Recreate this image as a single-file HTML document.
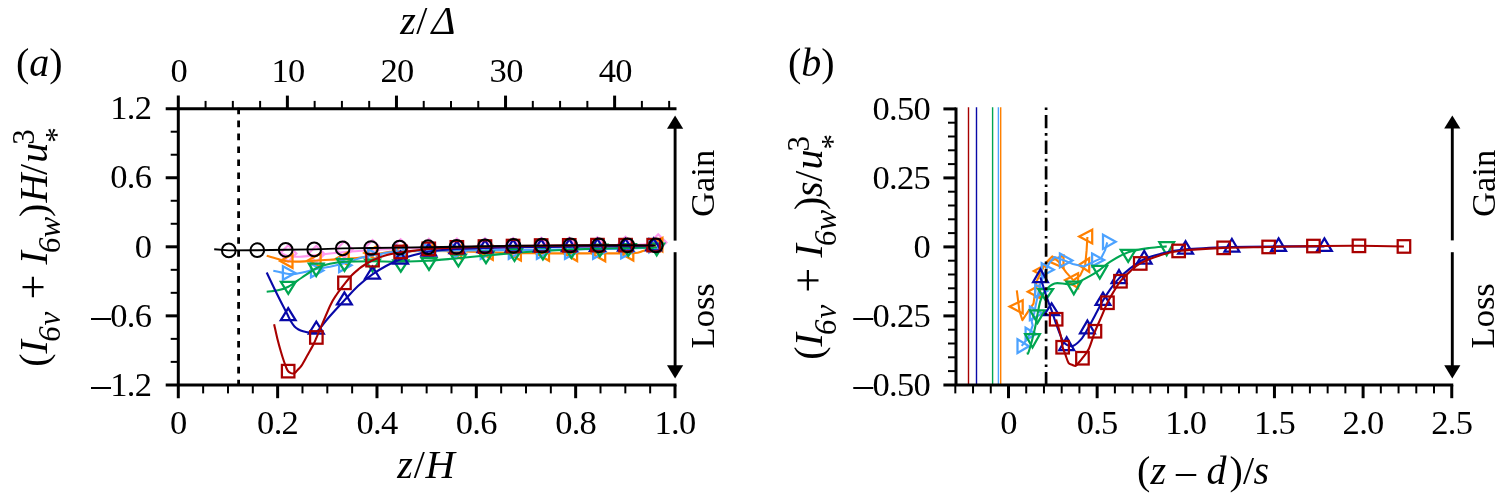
<!DOCTYPE html>
<html lang="en">
<head>
<meta charset="utf-8">
<title>Figure</title>
<style>html,body{margin:0;padding:0;background:#fff;}svg{display:block;}</style>
</head>
<body>
<svg width="1504" height="496" viewBox="0 0 1504 496" font-family="'Liberation Serif', serif" fill="#000">
<rect width="1504" height="496" fill="#fff"/>
<line x1="238.60" y1="107.64" x2="238.60" y2="384.90" stroke="#000" stroke-width="2.8" stroke-dasharray="6.6 6.36"/>
<path d="M280.0,252.5 C281.3,253.1 284.8,255.3 288.0,256.0 C291.2,256.7 295.4,256.9 300.0,256.7 C304.6,256.5 309.5,255.8 316.7,255.0 C323.9,254.2 336.2,252.8 345.0,252.0 C353.8,251.2 363.2,250.5 372.0,250.0 C380.8,249.5 391.0,249.0 400.0,248.6 C409.0,248.2 418.9,247.9 428.0,247.6 C437.1,247.3 443.2,247.2 457.0,247.0 C470.8,246.8 495.8,246.6 514.0,246.4 C532.2,246.2 553.1,246.2 571.0,246.0 C588.9,245.8 614.5,245.5 626.0,245.3 C637.5,245.1 638.2,244.9 643.0,244.5 C647.8,244.1 653.9,242.9 656.0,242.6" fill="none" stroke="#ff99ee" stroke-width="2.1" stroke-linejoin="round"/>
<polygon points="288.2,245.3 296.4,253.5 288.2,261.7 280.0,253.5" fill="none" stroke="#ff99ee" stroke-width="2.25"/>
<polygon points="316.3,245.8 324.5,254.0 316.3,262.2 308.1,254.0" fill="none" stroke="#ff99ee" stroke-width="2.25"/>
<polygon points="344.4,241.3 352.6,249.5 344.4,257.7 336.2,249.5" fill="none" stroke="#ff99ee" stroke-width="2.25"/>
<polygon points="372.5,240.1 380.7,248.3 372.5,256.5 364.3,248.3" fill="none" stroke="#ff99ee" stroke-width="2.25"/>
<polygon points="400.6,239.4 408.8,247.6 400.6,255.8 392.4,247.6" fill="none" stroke="#ff99ee" stroke-width="2.25"/>
<polygon points="428.8,238.9 436.9,247.1 428.8,255.3 420.6,247.1" fill="none" stroke="#ff99ee" stroke-width="2.25"/>
<polygon points="456.9,238.6 465.1,246.8 456.9,255.0 448.7,246.8" fill="none" stroke="#ff99ee" stroke-width="2.25"/>
<polygon points="485.0,238.3 493.2,246.5 485.0,254.7 476.8,246.5" fill="none" stroke="#ff99ee" stroke-width="2.25"/>
<polygon points="513.1,238.0 521.3,246.2 513.1,254.4 504.9,246.2" fill="none" stroke="#ff99ee" stroke-width="2.25"/>
<polygon points="541.2,237.8 549.4,246.0 541.2,254.2 533.0,246.0" fill="none" stroke="#ff99ee" stroke-width="2.25"/>
<polygon points="569.3,237.6 577.5,245.8 569.3,254.0 561.1,245.8" fill="none" stroke="#ff99ee" stroke-width="2.25"/>
<polygon points="597.4,237.3 605.6,245.5 597.4,253.7 589.2,245.5" fill="none" stroke="#ff99ee" stroke-width="2.25"/>
<polygon points="625.5,236.8 633.7,245.0 625.5,253.2 617.3,245.0" fill="none" stroke="#ff99ee" stroke-width="2.25"/>
<polygon points="658.2,234.3 666.4,242.5 658.2,250.7 650.0,242.5" fill="none" stroke="#ff99ee" stroke-width="2.25"/>
<path d="M266.7,255.8 C268.3,256.3 273.8,257.9 277.0,258.8 C280.2,259.7 283.0,260.9 286.7,261.3 C290.4,261.7 295.2,261.7 300.0,261.6 C304.8,261.5 311.9,260.8 316.7,260.5 C321.5,260.2 325.5,260.0 330.0,259.7 C334.5,259.4 339.7,259.2 345.0,258.8 C350.3,258.4 357.4,258.0 363.0,257.2 C368.6,256.4 375.7,254.3 380.0,253.5 C384.3,252.7 386.8,252.3 390.0,251.9 C393.2,251.5 393.9,251.4 400.0,251.3 C406.1,251.2 418.9,251.0 428.0,251.0 C437.1,251.0 447.9,251.1 457.0,251.3 C466.1,251.5 475.9,251.7 485.0,252.0 C494.1,252.3 506.3,252.8 514.0,253.0 C521.7,253.2 523.9,253.2 533.0,253.3 C542.1,253.4 560.4,253.4 571.0,253.4 C581.6,253.4 589.1,253.3 599.0,253.3 C608.9,253.3 626.0,253.6 633.0,253.2 C640.0,252.8 639.7,252.1 643.0,251.0 C646.3,249.9 652.1,247.1 653.8,246.3" fill="none" stroke="#ff8000" stroke-width="2.1" stroke-linejoin="round"/>
<polygon points="292.5,254.2 280.1,261.0 292.5,267.8" fill="none" stroke="#ff8000" stroke-width="2.25" stroke-linejoin="miter"/>
<polygon points="320.6,253.5 308.2,260.3 320.6,267.1" fill="none" stroke="#ff8000" stroke-width="2.25" stroke-linejoin="miter"/>
<polygon points="348.7,251.8 336.3,258.6 348.7,265.4" fill="none" stroke="#ff8000" stroke-width="2.25" stroke-linejoin="miter"/>
<polygon points="376.8,246.2 364.4,253.0 376.8,259.8" fill="none" stroke="#ff8000" stroke-width="2.25" stroke-linejoin="miter"/>
<polygon points="404.9,244.7 392.5,251.5 404.9,258.3" fill="none" stroke="#ff8000" stroke-width="2.25" stroke-linejoin="miter"/>
<polygon points="433.1,244.7 420.6,251.5 433.1,258.3" fill="none" stroke="#ff8000" stroke-width="2.25" stroke-linejoin="miter"/>
<polygon points="461.2,245.2 448.8,252.0 461.2,258.8" fill="none" stroke="#ff8000" stroke-width="2.25" stroke-linejoin="miter"/>
<polygon points="492.8,246.2 480.9,253.0 492.8,259.8" fill="none" stroke="#ff8000" stroke-width="2.25" stroke-linejoin="miter"/>
<polygon points="520.9,246.9 509.0,253.7 520.9,260.5" fill="none" stroke="#ff8000" stroke-width="2.25" stroke-linejoin="miter"/>
<polygon points="549.0,247.2 537.1,254.0 549.0,260.8" fill="none" stroke="#ff8000" stroke-width="2.25" stroke-linejoin="miter"/>
<polygon points="577.1,247.4 565.2,254.2 577.1,261.0" fill="none" stroke="#ff8000" stroke-width="2.25" stroke-linejoin="miter"/>
<polygon points="605.2,247.7 593.3,254.5 605.2,261.3" fill="none" stroke="#ff8000" stroke-width="2.25" stroke-linejoin="miter"/>
<polygon points="633.3,247.0 621.4,253.8 633.3,260.6" fill="none" stroke="#ff8000" stroke-width="2.25" stroke-linejoin="miter"/>
<polygon points="662.4,238.0 651.0,244.8 662.4,251.6" fill="none" stroke="#ff8000" stroke-width="2.25" stroke-linejoin="miter"/>
<path d="M273.3,270.8 C274.7,271.1 279.5,272.1 282.0,272.6 C284.5,273.1 286.9,273.8 289.0,274.0 C291.1,274.2 292.4,274.3 295.0,274.0 C297.6,273.7 301.5,272.8 305.0,272.0 C308.5,271.2 312.7,269.8 316.7,269.0 C320.7,268.2 325.5,267.8 330.0,266.8 C334.5,265.8 339.7,264.5 345.0,263.0 C350.3,261.5 357.4,258.6 363.0,257.2 C368.6,255.8 375.7,254.8 380.0,254.0 C384.3,253.2 386.8,252.7 390.0,252.3 C393.2,251.9 393.9,251.6 400.0,251.3 C406.1,251.0 418.9,250.8 428.0,250.7 C437.1,250.6 447.9,250.6 457.0,250.5 C466.1,250.4 475.9,250.4 485.0,250.3 C494.1,250.2 504.9,250.1 514.0,250.0 C523.1,249.9 532.9,249.8 542.0,249.7 C551.1,249.6 561.9,249.5 571.0,249.4 C580.1,249.3 590.2,249.2 599.0,249.1 C607.8,249.0 617.3,249.0 626.0,248.7 C634.7,248.4 649.2,247.7 653.6,247.5" fill="none" stroke="#4ca2ff" stroke-width="2.1" stroke-linejoin="round"/>
<polygon points="282.9,266.2 295.3,273.0 282.9,279.8" fill="none" stroke="#4ca2ff" stroke-width="2.25" stroke-linejoin="miter"/>
<polygon points="311.0,263.7 323.4,270.5 311.0,277.3" fill="none" stroke="#4ca2ff" stroke-width="2.25" stroke-linejoin="miter"/>
<polygon points="339.1,258.4 351.5,265.2 339.1,272.0" fill="none" stroke="#4ca2ff" stroke-width="2.25" stroke-linejoin="miter"/>
<polygon points="368.2,249.2 380.6,256.0 368.2,262.8" fill="none" stroke="#4ca2ff" stroke-width="2.25" stroke-linejoin="miter"/>
<polygon points="396.3,245.2 408.7,252.0 396.3,258.8" fill="none" stroke="#4ca2ff" stroke-width="2.25" stroke-linejoin="miter"/>
<polygon points="424.4,244.2 436.9,251.0 424.4,257.8" fill="none" stroke="#4ca2ff" stroke-width="2.25" stroke-linejoin="miter"/>
<polygon points="452.6,244.7 465.0,251.5 452.6,258.3" fill="none" stroke="#4ca2ff" stroke-width="2.25" stroke-linejoin="miter"/>
<polygon points="480.7,245.2 493.1,252.0 480.7,258.8" fill="none" stroke="#4ca2ff" stroke-width="2.25" stroke-linejoin="miter"/>
<polygon points="508.8,245.2 521.2,252.0 508.8,258.8" fill="none" stroke="#4ca2ff" stroke-width="2.25" stroke-linejoin="miter"/>
<polygon points="536.9,245.2 549.3,252.0 536.9,258.8" fill="none" stroke="#4ca2ff" stroke-width="2.25" stroke-linejoin="miter"/>
<polygon points="565.0,245.2 577.4,252.0 565.0,258.8" fill="none" stroke="#4ca2ff" stroke-width="2.25" stroke-linejoin="miter"/>
<polygon points="593.1,245.2 605.5,252.0 593.1,258.8" fill="none" stroke="#4ca2ff" stroke-width="2.25" stroke-linejoin="miter"/>
<polygon points="621.2,244.7 633.6,251.5 621.2,258.3" fill="none" stroke="#4ca2ff" stroke-width="2.25" stroke-linejoin="miter"/>
<polygon points="649.3,238.8 661.7,245.6 649.3,252.4" fill="none" stroke="#4ca2ff" stroke-width="2.25" stroke-linejoin="miter"/>
<path d="M266.7,291.7 C268.5,291.5 274.5,291.1 278.0,290.3 C281.5,289.5 284.5,288.7 288.3,286.7 C292.1,284.7 297.5,280.5 302.0,277.5 C306.5,274.5 312.2,270.2 316.7,268.0 C321.2,265.8 325.5,264.8 330.0,263.8 C334.5,262.8 338.3,262.2 345.0,261.8 C351.7,261.4 362.9,261.3 371.7,261.3 C380.5,261.3 390.9,261.8 400.0,261.7 C409.1,261.6 419.0,261.4 428.3,260.8 C437.6,260.2 448.8,259.0 458.0,258.2 C467.2,257.4 477.0,256.3 486.0,255.5 C495.0,254.7 504.9,253.7 514.0,253.0 C523.1,252.3 533.9,251.5 543.0,251.0 C552.1,250.5 561.9,250.0 571.0,249.6 C580.1,249.2 590.9,248.9 600.0,248.6 C609.1,248.3 618.9,248.1 628.0,247.9 C637.1,247.7 652.4,247.6 657.0,247.5" fill="none" stroke="#00a651" stroke-width="2.1" stroke-linejoin="round"/>
<polygon points="280.9,281.9 295.7,281.9 288.3,293.8" fill="none" stroke="#00a651" stroke-width="2.25" stroke-linejoin="miter"/>
<polygon points="308.8,263.5 323.6,263.5 316.2,276.1" fill="none" stroke="#00a651" stroke-width="2.25" stroke-linejoin="miter"/>
<polygon points="337.1,259.0 351.9,259.0 344.5,270.8" fill="none" stroke="#00a651" stroke-width="2.25" stroke-linejoin="miter"/>
<polygon points="365.1,259.7 379.9,259.7 372.5,271.4" fill="none" stroke="#00a651" stroke-width="2.25" stroke-linejoin="miter"/>
<polygon points="393.4,260.4 408.2,260.4 400.8,271.6" fill="none" stroke="#00a651" stroke-width="2.25" stroke-linejoin="miter"/>
<polygon points="421.6,258.2 436.4,258.2 429.0,269.8" fill="none" stroke="#00a651" stroke-width="2.25" stroke-linejoin="miter"/>
<polygon points="451.0,254.7 465.8,254.7 458.4,266.4" fill="none" stroke="#00a651" stroke-width="2.25" stroke-linejoin="miter"/>
<polygon points="478.6,251.7 493.4,251.7 486.0,263.2" fill="none" stroke="#00a651" stroke-width="2.25" stroke-linejoin="miter"/>
<polygon points="507.1,249.2 521.9,249.2 514.5,261.0" fill="none" stroke="#00a651" stroke-width="2.25" stroke-linejoin="miter"/>
<polygon points="535.5,247.7 550.3,247.7 542.9,259.5" fill="none" stroke="#00a651" stroke-width="2.25" stroke-linejoin="miter"/>
<polygon points="564.0,246.2 578.8,246.2 571.4,258.0" fill="none" stroke="#00a651" stroke-width="2.25" stroke-linejoin="miter"/>
<polygon points="592.4,244.7 607.2,244.7 599.8,256.5" fill="none" stroke="#00a651" stroke-width="2.25" stroke-linejoin="miter"/>
<polygon points="620.9,244.2 635.7,244.2 628.3,256.0" fill="none" stroke="#00a651" stroke-width="2.25" stroke-linejoin="miter"/>
<polygon points="649.3,243.5 664.1,243.5 656.7,255.3" fill="none" stroke="#00a651" stroke-width="2.25" stroke-linejoin="miter"/>
<path d="M266.7,272.5 C268.3,275.9 273.6,287.1 277.0,294.0 C280.4,300.9 285.7,311.1 287.9,315.5 C290.1,319.9 289.9,319.7 291.0,321.5 C292.1,323.3 293.3,325.2 294.5,326.5 C295.7,327.8 297.1,328.7 298.5,329.5 C299.9,330.3 301.1,330.8 303.0,331.3 C304.9,331.8 308.2,332.5 310.4,332.6 C312.6,332.7 314.6,333.1 316.6,331.8 C318.6,330.5 320.9,327.0 323.0,324.5 C325.1,322.0 326.5,319.9 330.0,316.0 C333.5,312.1 340.2,304.8 344.7,300.0 C349.2,295.2 353.6,290.1 358.0,286.0 C362.4,281.9 367.9,277.5 372.4,274.3 C376.9,271.1 381.6,268.4 386.0,266.0 C390.4,263.6 395.5,261.3 400.0,259.5 C404.5,257.7 409.5,256.2 414.0,255.0 C418.5,253.8 423.9,252.6 428.4,251.8 C432.9,251.0 437.5,250.4 442.0,250.0 C446.5,249.6 449.8,249.3 456.7,249.0 C463.6,248.7 475.8,248.3 485.0,248.0 C494.2,247.7 500.2,247.5 514.0,247.3 C527.8,247.1 553.1,246.8 571.0,246.6 C588.9,246.4 612.8,246.3 626.0,246.2 C639.2,246.1 649.2,246.0 653.6,246.0" fill="none" stroke="#0808a8" stroke-width="2.1" stroke-linejoin="round"/>
<polygon points="288.2,308.1 295.6,320.2 280.8,320.2" fill="none" stroke="#0808a8" stroke-width="2.25" stroke-linejoin="miter"/>
<polygon points="316.3,321.6 323.7,333.5 308.9,333.5" fill="none" stroke="#0808a8" stroke-width="2.25" stroke-linejoin="miter"/>
<polygon points="344.4,292.3 351.8,304.3 337.0,304.3" fill="none" stroke="#0808a8" stroke-width="2.25" stroke-linejoin="miter"/>
<polygon points="372.5,266.7 379.9,278.5 365.1,278.5" fill="none" stroke="#0808a8" stroke-width="2.25" stroke-linejoin="miter"/>
<polygon points="400.6,251.7 408.0,263.6 393.2,263.6" fill="none" stroke="#0808a8" stroke-width="2.25" stroke-linejoin="miter"/>
<polygon points="428.8,243.7 436.1,255.6 421.4,255.6" fill="none" stroke="#0808a8" stroke-width="2.25" stroke-linejoin="miter"/>
<polygon points="456.9,241.2 464.3,253.1 449.5,253.1" fill="none" stroke="#0808a8" stroke-width="2.25" stroke-linejoin="miter"/>
<polygon points="485.0,240.2 492.4,252.1 477.6,252.1" fill="none" stroke="#0808a8" stroke-width="2.25" stroke-linejoin="miter"/>
<polygon points="513.1,239.7 520.5,251.6 505.7,251.6" fill="none" stroke="#0808a8" stroke-width="2.25" stroke-linejoin="miter"/>
<polygon points="541.2,239.4 548.6,251.3 533.8,251.3" fill="none" stroke="#0808a8" stroke-width="2.25" stroke-linejoin="miter"/>
<polygon points="569.3,239.2 576.7,251.1 561.9,251.1" fill="none" stroke="#0808a8" stroke-width="2.25" stroke-linejoin="miter"/>
<polygon points="597.4,239.0 604.8,250.9 590.0,250.9" fill="none" stroke="#0808a8" stroke-width="2.25" stroke-linejoin="miter"/>
<polygon points="625.5,238.8 632.9,250.7 618.1,250.7" fill="none" stroke="#0808a8" stroke-width="2.25" stroke-linejoin="miter"/>
<polygon points="653.6,238.4 661.0,250.3 646.2,250.3" fill="none" stroke="#0808a8" stroke-width="2.25" stroke-linejoin="miter"/>
<path d="M274.1,324.2 C274.7,326.7 276.6,335.6 277.7,340.0 C278.8,344.4 280.0,348.6 281.0,352.0 C282.0,355.4 283.1,358.9 284.0,361.5 C284.9,364.1 285.7,366.4 286.4,368.0 C287.1,369.6 287.5,370.5 288.2,371.3 C288.9,372.1 289.7,372.5 290.5,372.9 C291.3,373.3 292.2,373.6 293.0,373.5 C293.8,373.4 294.6,373.0 295.5,372.3 C296.4,371.6 297.5,370.1 298.5,369.0 C299.5,367.9 300.3,367.4 301.7,365.3 C303.1,363.2 305.2,359.2 307.0,356.0 C308.8,352.8 311.5,348.3 313.0,345.3 C314.5,342.3 313.8,343.8 316.6,337.4 C319.4,331.0 327.2,311.9 330.5,305.0 C333.8,298.1 334.7,297.5 337.0,294.0 C339.3,290.5 342.6,286.3 345.0,283.3 C347.4,280.3 349.8,277.3 352.0,275.0 C354.2,272.7 356.8,270.6 359.0,268.8 C361.2,267.0 363.7,265.4 366.0,264.0 C368.3,262.6 369.9,261.4 373.3,260.0 C376.7,258.6 382.6,256.2 387.0,255.0 C391.4,253.8 396.5,253.0 401.0,252.3 C405.5,251.6 410.5,251.1 415.0,250.6 C419.5,250.1 422.3,249.4 429.0,248.9 C435.7,248.4 448.0,247.8 457.0,247.4 C466.0,247.0 475.9,246.9 485.0,246.7 C494.1,246.5 500.2,246.3 514.0,246.1 C527.8,245.9 553.1,245.5 571.0,245.4 C588.9,245.3 612.8,245.3 626.0,245.3 C639.2,245.3 649.2,245.5 653.6,245.5" fill="none" stroke="#a80000" stroke-width="2.1" stroke-linejoin="round"/>
<rect x="281.9" y="364.9" width="12.5" height="12.5" fill="none" stroke="#a80000" stroke-width="2.25"/>
<rect x="310.1" y="331.2" width="12.5" height="12.5" fill="none" stroke="#a80000" stroke-width="2.25"/>
<rect x="338.2" y="276.6" width="12.5" height="12.5" fill="none" stroke="#a80000" stroke-width="2.25"/>
<rect x="366.3" y="253.9" width="12.5" height="12.5" fill="none" stroke="#a80000" stroke-width="2.25"/>
<rect x="394.4" y="245.7" width="12.5" height="12.5" fill="none" stroke="#a80000" stroke-width="2.25"/>
<rect x="422.5" y="242.6" width="12.5" height="12.5" fill="none" stroke="#a80000" stroke-width="2.25"/>
<rect x="450.6" y="241.1" width="12.5" height="12.5" fill="none" stroke="#a80000" stroke-width="2.25"/>
<rect x="478.7" y="240.3" width="12.5" height="12.5" fill="none" stroke="#a80000" stroke-width="2.25"/>
<rect x="506.8" y="239.8" width="12.5" height="12.5" fill="none" stroke="#a80000" stroke-width="2.25"/>
<rect x="534.9" y="239.3" width="12.5" height="12.5" fill="none" stroke="#a80000" stroke-width="2.25"/>
<rect x="563.0" y="239.1" width="12.5" height="12.5" fill="none" stroke="#a80000" stroke-width="2.25"/>
<rect x="591.2" y="238.9" width="12.5" height="12.5" fill="none" stroke="#a80000" stroke-width="2.25"/>
<rect x="619.3" y="238.9" width="12.5" height="12.5" fill="none" stroke="#a80000" stroke-width="2.25"/>
<rect x="647.4" y="238.9" width="12.5" height="12.5" fill="none" stroke="#a80000" stroke-width="2.25"/>
<polyline points="214.2,249.2 228.8,250.4 257.3,250.2 285.7,249.8 314.2,249.4 342.7,248.4 371.1,248.0 399.6,247.6 428.1,247.2 456.6,246.8 485.0,246.3 513.5,245.8 542.0,245.6 570.4,245.4 598.9,245.3 627.4,245.3 655.8,245.4" fill="none" stroke="#000" stroke-width="1.9" stroke-linejoin="round" stroke-linecap="butt" />
<circle cx="228.8" cy="250.4" r="6.85" fill="none" stroke="#000" stroke-width="2.0"/>
<circle cx="257.3" cy="250.2" r="6.85" fill="none" stroke="#000" stroke-width="2.0"/>
<circle cx="285.7" cy="249.8" r="6.85" fill="none" stroke="#000" stroke-width="2.0"/>
<circle cx="314.2" cy="249.4" r="6.85" fill="none" stroke="#000" stroke-width="2.0"/>
<circle cx="342.7" cy="248.4" r="6.85" fill="none" stroke="#000" stroke-width="2.0"/>
<circle cx="371.1" cy="248.0" r="6.85" fill="none" stroke="#000" stroke-width="2.0"/>
<circle cx="399.6" cy="247.6" r="6.85" fill="none" stroke="#000" stroke-width="2.0"/>
<circle cx="428.1" cy="247.2" r="6.85" fill="none" stroke="#000" stroke-width="2.0"/>
<circle cx="456.6" cy="246.8" r="6.85" fill="none" stroke="#000" stroke-width="2.0"/>
<circle cx="485.0" cy="246.3" r="6.85" fill="none" stroke="#000" stroke-width="2.0"/>
<circle cx="513.5" cy="245.8" r="6.85" fill="none" stroke="#000" stroke-width="2.0"/>
<circle cx="542.0" cy="245.6" r="6.85" fill="none" stroke="#000" stroke-width="2.0"/>
<circle cx="570.4" cy="245.4" r="6.85" fill="none" stroke="#000" stroke-width="2.0"/>
<circle cx="598.9" cy="245.3" r="6.85" fill="none" stroke="#000" stroke-width="2.0"/>
<circle cx="627.4" cy="245.3" r="6.85" fill="none" stroke="#000" stroke-width="2.0"/>
<circle cx="655.8" cy="245.4" r="6.85" fill="none" stroke="#000" stroke-width="2.0"/>
<line x1="165.70" y1="108.70" x2="676.50" y2="108.70" stroke="#000" stroke-width="3" />
<line x1="165.70" y1="384.90" x2="676.50" y2="384.90" stroke="#000" stroke-width="3" />
<line x1="178.30" y1="95.60" x2="178.30" y2="398.20" stroke="#000" stroke-width="3" />
<line x1="205.57" y1="100.90" x2="205.57" y2="108.70" stroke="#000" stroke-width="2" />
<line x1="232.84" y1="100.90" x2="232.84" y2="108.70" stroke="#000" stroke-width="2" />
<line x1="260.11" y1="100.90" x2="260.11" y2="108.70" stroke="#000" stroke-width="2" />
<line x1="287.38" y1="95.60" x2="287.38" y2="108.70" stroke="#000" stroke-width="3" />
<line x1="314.65" y1="100.90" x2="314.65" y2="108.70" stroke="#000" stroke-width="2" />
<line x1="341.92" y1="100.90" x2="341.92" y2="108.70" stroke="#000" stroke-width="2" />
<line x1="369.19" y1="100.90" x2="369.19" y2="108.70" stroke="#000" stroke-width="2" />
<line x1="396.46" y1="95.60" x2="396.46" y2="108.70" stroke="#000" stroke-width="3" />
<line x1="423.73" y1="100.90" x2="423.73" y2="108.70" stroke="#000" stroke-width="2" />
<line x1="451.00" y1="100.90" x2="451.00" y2="108.70" stroke="#000" stroke-width="2" />
<line x1="478.27" y1="100.90" x2="478.27" y2="108.70" stroke="#000" stroke-width="2" />
<line x1="505.54" y1="95.60" x2="505.54" y2="108.70" stroke="#000" stroke-width="3" />
<line x1="532.81" y1="100.90" x2="532.81" y2="108.70" stroke="#000" stroke-width="2" />
<line x1="560.08" y1="100.90" x2="560.08" y2="108.70" stroke="#000" stroke-width="2" />
<line x1="587.35" y1="100.90" x2="587.35" y2="108.70" stroke="#000" stroke-width="2" />
<line x1="614.62" y1="95.60" x2="614.62" y2="108.70" stroke="#000" stroke-width="3" />
<line x1="641.89" y1="100.90" x2="641.89" y2="108.70" stroke="#000" stroke-width="2" />
<line x1="669.16" y1="100.90" x2="669.16" y2="108.70" stroke="#000" stroke-width="2" />
<text x="178.90" y="81.60" font-size="34.5" letter-spacing="-0.7" text-anchor="middle" >0</text>
<text x="287.98" y="81.60" font-size="34.5" letter-spacing="-0.7" text-anchor="middle" >10</text>
<text x="397.06" y="81.60" font-size="34.5" letter-spacing="-0.7" text-anchor="middle" >20</text>
<text x="506.14" y="81.60" font-size="34.5" letter-spacing="-0.7" text-anchor="middle" >30</text>
<text x="615.22" y="81.60" font-size="34.5" letter-spacing="-0.7" text-anchor="middle" >40</text>
<line x1="203.14" y1="384.90" x2="203.14" y2="393.40" stroke="#000" stroke-width="2" />
<line x1="227.97" y1="384.90" x2="227.97" y2="393.40" stroke="#000" stroke-width="2" />
<line x1="252.81" y1="384.90" x2="252.81" y2="393.40" stroke="#000" stroke-width="2" />
<line x1="277.64" y1="384.90" x2="277.64" y2="398.20" stroke="#000" stroke-width="3" />
<line x1="302.48" y1="384.90" x2="302.48" y2="393.40" stroke="#000" stroke-width="2" />
<line x1="327.31" y1="384.90" x2="327.31" y2="393.40" stroke="#000" stroke-width="2" />
<line x1="352.14" y1="384.90" x2="352.14" y2="393.40" stroke="#000" stroke-width="2" />
<line x1="376.98" y1="384.90" x2="376.98" y2="398.20" stroke="#000" stroke-width="3" />
<line x1="401.81" y1="384.90" x2="401.81" y2="393.40" stroke="#000" stroke-width="2" />
<line x1="426.65" y1="384.90" x2="426.65" y2="393.40" stroke="#000" stroke-width="2" />
<line x1="451.49" y1="384.90" x2="451.49" y2="393.40" stroke="#000" stroke-width="2" />
<line x1="476.32" y1="384.90" x2="476.32" y2="398.20" stroke="#000" stroke-width="3" />
<line x1="501.16" y1="384.90" x2="501.16" y2="393.40" stroke="#000" stroke-width="2" />
<line x1="525.99" y1="384.90" x2="525.99" y2="393.40" stroke="#000" stroke-width="2" />
<line x1="550.83" y1="384.90" x2="550.83" y2="393.40" stroke="#000" stroke-width="2" />
<line x1="575.66" y1="384.90" x2="575.66" y2="398.20" stroke="#000" stroke-width="3" />
<line x1="600.50" y1="384.90" x2="600.50" y2="393.40" stroke="#000" stroke-width="2" />
<line x1="625.33" y1="384.90" x2="625.33" y2="393.40" stroke="#000" stroke-width="2" />
<line x1="650.16" y1="384.90" x2="650.16" y2="393.40" stroke="#000" stroke-width="2" />
<line x1="675.00" y1="384.90" x2="675.00" y2="398.20" stroke="#000" stroke-width="3" />
<text x="178.30" y="434.00" font-size="34.5" letter-spacing="-0.7" text-anchor="middle" >0</text>
<text x="277.64" y="434.00" font-size="34.5" letter-spacing="-0.7" text-anchor="middle" >0.2</text>
<text x="376.98" y="434.00" font-size="34.5" letter-spacing="-0.7" text-anchor="middle" >0.4</text>
<text x="476.32" y="434.00" font-size="34.5" letter-spacing="-0.7" text-anchor="middle" >0.6</text>
<text x="575.66" y="434.00" font-size="34.5" letter-spacing="-0.7" text-anchor="middle" >0.8</text>
<text x="675.00" y="434.00" font-size="34.5" letter-spacing="-0.7" text-anchor="middle" >1.0</text>
<line x1="170.70" y1="131.72" x2="178.30" y2="131.72" stroke="#000" stroke-width="2" />
<line x1="170.70" y1="154.73" x2="178.30" y2="154.73" stroke="#000" stroke-width="2" />
<line x1="165.70" y1="177.75" x2="178.30" y2="177.75" stroke="#000" stroke-width="3" />
<line x1="170.70" y1="200.77" x2="178.30" y2="200.77" stroke="#000" stroke-width="2" />
<line x1="170.70" y1="223.78" x2="178.30" y2="223.78" stroke="#000" stroke-width="2" />
<line x1="165.70" y1="246.80" x2="178.30" y2="246.80" stroke="#000" stroke-width="3" />
<line x1="170.70" y1="269.82" x2="178.30" y2="269.82" stroke="#000" stroke-width="2" />
<line x1="170.70" y1="292.83" x2="178.30" y2="292.83" stroke="#000" stroke-width="2" />
<line x1="165.70" y1="315.85" x2="178.30" y2="315.85" stroke="#000" stroke-width="3" />
<line x1="170.70" y1="338.87" x2="178.30" y2="338.87" stroke="#000" stroke-width="2" />
<line x1="170.70" y1="361.88" x2="178.30" y2="361.88" stroke="#000" stroke-width="2" />
<text x="151.20" y="119.40" font-size="34.5" letter-spacing="-0.7" text-anchor="end" >1.2</text>
<text x="151.20" y="188.45" font-size="34.5" letter-spacing="-0.7" text-anchor="end" >0.6</text>
<text x="151.20" y="257.50" font-size="34.5" letter-spacing="-0.7" text-anchor="end" >0</text>
<text x="151.20" y="326.55" font-size="34.5" letter-spacing="-0.7" text-anchor="end" ><tspan font-size="39" dy="1">–</tspan><tspan dy="-1">0.6</tspan></text>
<text x="151.20" y="395.60" font-size="34.5" letter-spacing="-0.7" text-anchor="end" ><tspan font-size="39" dy="1">–</tspan><tspan dy="-1">1.2</tspan></text>
<line x1="675.10" y1="127.80" x2="675.10" y2="240.60" stroke="#000" stroke-width="2.9" />
<polygon points="675.1,115.6 683.2,128.8 667.0,128.8" fill="#000"/>
<line x1="675.10" y1="252.20" x2="675.10" y2="366.20" stroke="#000" stroke-width="2.9" />
<polygon points="675.1,378.4 683.2,365.2 667.0,365.2" fill="#000"/>
<text transform="translate(714.4,183.4) rotate(-90)" font-size="34.5" text-anchor="middle">Gain</text>
<text transform="translate(714.0,315.8) rotate(-90)" font-size="34.5" text-anchor="middle">Loss</text>
<text y="34.3" font-size="40"><tspan x="400.2" font-style="italic">z</tspan><tspan x="416.2">/</tspan><tspan x="431.5" font-style="italic" font-size="41">Δ</tspan></text>
<text y="478.2" font-size="40"><tspan x="397.3" font-style="italic">z</tspan><tspan x="413.8">/</tspan><tspan x="425.4" font-style="italic" font-size="40.6">H</tspan></text>
<text x="16" y="76.4" font-size="40">(<tspan font-style="italic">a</tspan>)</text>
<g transform="translate(46.5,366) rotate(-90)" font-size="40">
<text y="0"><tspan x="-0.7">(</tspan><tspan x="12.6" font-style="italic">I</tspan><tspan x="24.2" dy="13.5" font-size="31" font-style="italic">6</tspan><tspan x="40.5" font-size="31" font-style="italic">v</tspan><tspan x="66.4" dy="-12.5" font-size="44">+</tspan><tspan x="101.6" dy="-1" font-style="italic">I</tspan><tspan x="113" dy="13.5" font-size="31" font-style="italic">6</tspan><tspan x="128.5" font-size="31" font-style="italic">w</tspan><tspan x="149" dy="-13.5">)</tspan><tspan x="163.4" font-style="italic">H</tspan><tspan x="191">/</tspan><tspan x="203.2" font-style="italic">u</tspan><tspan x="221.2" dy="-12.75" font-size="31">3</tspan><tspan x="223.2" dy="33.35" font-size="31">*</tspan></text>
</g>
<line x1="968.50" y1="107.30" x2="968.50" y2="384.90" stroke="#a80000" stroke-width="1.4" />
<line x1="976.50" y1="107.30" x2="976.50" y2="384.90" stroke="#0808a8" stroke-width="1.4" />
<line x1="992.60" y1="107.30" x2="992.60" y2="384.90" stroke="#00a651" stroke-width="1.4" />
<line x1="998.40" y1="107.30" x2="998.40" y2="384.90" stroke="#4ca2ff" stroke-width="1.4" />
<line x1="1000.70" y1="107.30" x2="1000.70" y2="384.90" stroke="#ff8000" stroke-width="1.4" />
<g transform="translate(0.2,0.4)">
<polyline points="1087.2,236.6 1086.4,250.0 1085.0,264.6 1080.0,275.0 1073.2,280.0 1066.0,272.0 1058.0,261.0 1052.0,256.0 1046.0,262.0 1041.0,271.0 1036.0,282.0 1035.0,291.0 1033.3,303.2 1027.2,312.3 1022.2,319.8 1019.2,310.2 1016.6,290.0" fill="none" stroke="#ff8000" stroke-width="2.1" stroke-linejoin="round" stroke-linecap="butt" />
<polygon points="1092.0,229.3 1079.0,236.1 1092.0,243.0" fill="none" stroke="#ff8000" stroke-width="2.25" stroke-linejoin="miter"/>
<polygon points="1089.0,257.8 1078.5,264.6 1089.0,271.5" fill="none" stroke="#ff8000" stroke-width="2.25" stroke-linejoin="miter"/>
<polygon points="1077.9,272.9 1064.9,279.7 1077.9,287.6" fill="none" stroke="#ff8000" stroke-width="2.25" stroke-linejoin="miter"/>
<polygon points="1063.3,255.2 1048.8,261.1 1063.3,267.4" fill="none" stroke="#ff8000" stroke-width="2.25" stroke-linejoin="miter"/>
<polygon points="1045.8,264.2 1033.7,270.7 1045.8,277.3" fill="none" stroke="#ff8000" stroke-width="2.25" stroke-linejoin="miter"/>
<polygon points="1039.8,284.7 1027.6,291.3 1039.8,297.8" fill="none" stroke="#ff8000" stroke-width="2.25" stroke-linejoin="miter"/>
<polygon points="1022.5,299.8 1009.4,306.2 1022.5,313.1" fill="none" stroke="#ff8000" stroke-width="2.25" stroke-linejoin="miter"/>
<polyline points="1107.0,242.0 1104.8,250.0 1100.8,258.0 1096.3,260.0 1083.7,266.1 1072.6,263.6 1064.0,260.0 1054.4,256.6 1049.4,262.1 1046.0,269.0 1040.3,283.3 1038.5,291.0 1035.5,305.0 1034.0,313.0 1031.5,321.0 1032.5,325.0 1029.5,333.6 1026.0,340.0 1021.5,345.5" fill="none" stroke="#4ca2ff" stroke-width="2.1" stroke-linejoin="round" stroke-linecap="butt" />
<polygon points="1102.8,234.3 1115.5,241.4 1102.8,248.5" fill="none" stroke="#4ca2ff" stroke-width="2.25" stroke-linejoin="miter"/>
<polygon points="1091.9,253.2 1103.9,259.6 1091.9,265.9" fill="none" stroke="#4ca2ff" stroke-width="2.25" stroke-linejoin="miter"/>
<polygon points="1059.7,253.2 1072.2,260.1 1059.7,266.9" fill="none" stroke="#4ca2ff" stroke-width="2.25" stroke-linejoin="miter"/>
<polygon points="1041.5,262.8 1053.6,269.3 1041.5,275.8" fill="none" stroke="#4ca2ff" stroke-width="2.25" stroke-linejoin="miter"/>
<polygon points="1035.0,284.2 1047.0,290.5 1035.0,296.8" fill="none" stroke="#4ca2ff" stroke-width="2.25" stroke-linejoin="miter"/>
<polygon points="1029.7,306.2 1042.1,313.0 1029.7,319.8" fill="none" stroke="#4ca2ff" stroke-width="2.25" stroke-linejoin="miter"/>
<polygon points="1025.4,327.3 1035.9,333.6 1025.4,339.8" fill="none" stroke="#4ca2ff" stroke-width="2.25" stroke-linejoin="miter"/>
<polygon points="1017.3,338.9 1028.8,345.8 1017.3,352.6" fill="none" stroke="#4ca2ff" stroke-width="2.25" stroke-linejoin="miter"/>
<path d="M1026.7,353.3 C1026.9,353.1 1027.3,354.7 1028.2,352.3 C1029.1,349.9 1031.2,342.6 1032.3,338.2 C1033.4,333.8 1034.5,329.0 1035.3,325.1 C1036.1,321.2 1036.5,318.0 1037.3,314.0 C1038.1,310.0 1039.0,304.0 1040.3,300.2 C1041.6,296.4 1043.1,292.8 1045.4,290.0 C1047.7,287.2 1051.2,284.0 1054.4,283.0 C1057.6,282.0 1062.4,283.4 1065.5,283.5 C1068.6,283.6 1069.7,284.9 1073.7,283.6 C1077.7,282.3 1086.3,277.5 1090.4,275.2 C1094.5,272.9 1096.4,271.7 1099.6,269.4 C1102.8,267.1 1106.0,263.8 1110.5,261.0 C1115.0,258.2 1121.8,253.9 1128.0,251.8 C1134.2,249.7 1142.8,248.5 1149.0,247.6 C1155.2,246.7 1163.7,246.3 1166.5,246.0" fill="none" stroke="#00a651" stroke-width="2.1" stroke-linejoin="round"/>
<polygon points="1024.9,333.8 1039.7,333.8 1032.3,347.1" fill="none" stroke="#00a651" stroke-width="2.25" stroke-linejoin="miter"/>
<polygon points="1029.9,309.9 1044.7,309.9 1037.3,322.7" fill="none" stroke="#00a651" stroke-width="2.25" stroke-linejoin="miter"/>
<polygon points="1038.0,288.8 1052.8,288.8 1045.4,299.8" fill="none" stroke="#00a651" stroke-width="2.25" stroke-linejoin="miter"/>
<polygon points="1066.2,281.2 1081.0,281.2 1073.6,293.9" fill="none" stroke="#00a651" stroke-width="2.25" stroke-linejoin="miter"/>
<polygon points="1092.2,265.4 1107.0,265.4 1099.6,278.2" fill="none" stroke="#00a651" stroke-width="2.25" stroke-linejoin="miter"/>
<polygon points="1120.6,249.5 1135.4,249.5 1128.0,261.5" fill="none" stroke="#00a651" stroke-width="2.25" stroke-linejoin="miter"/>
<polygon points="1159.1,241.6 1173.9,241.6 1166.5,254.8" fill="none" stroke="#00a651" stroke-width="2.25" stroke-linejoin="miter"/>
<path d="M1040.2,277.0 C1041.3,280.4 1045.1,292.7 1046.9,298.0 C1048.7,303.3 1049.9,305.7 1051.4,310.0 C1052.9,314.3 1054.7,320.2 1056.5,325.0 C1058.3,329.8 1060.9,337.1 1062.5,340.2 C1064.1,343.3 1064.9,343.7 1066.5,344.5 C1068.1,345.3 1070.3,346.3 1072.6,345.5 C1074.9,344.7 1078.3,341.8 1080.6,339.2 C1082.9,336.6 1084.9,333.0 1087.2,329.1 C1089.5,325.2 1092.3,319.6 1094.8,315.0 C1097.3,310.4 1100.4,304.4 1102.8,300.2 C1105.2,296.0 1107.4,292.6 1110.0,289.0 C1112.6,285.4 1115.6,281.4 1118.8,278.0 C1122.0,274.6 1126.0,271.1 1130.0,268.0 C1134.0,264.9 1139.2,261.1 1144.0,258.8 C1148.8,256.5 1153.4,255.1 1160.0,253.5 C1166.6,251.9 1173.9,250.0 1185.4,248.9 C1196.9,247.8 1216.8,247.1 1231.7,246.6 C1246.6,246.1 1263.6,246.1 1278.4,246.0 C1293.2,245.9 1316.9,246.0 1324.2,246.0" fill="none" stroke="#0808a8" stroke-width="2.1" stroke-linejoin="round"/>
<polygon points="1040.3,268.8 1047.7,281.6 1032.9,281.6" fill="none" stroke="#0808a8" stroke-width="2.25" stroke-linejoin="miter"/>
<polygon points="1051.4,302.9 1058.8,314.6 1044.0,314.6" fill="none" stroke="#0808a8" stroke-width="2.25" stroke-linejoin="miter"/>
<polygon points="1066.5,336.9 1073.9,349.6 1059.1,349.6" fill="none" stroke="#0808a8" stroke-width="2.25" stroke-linejoin="miter"/>
<polygon points="1087.2,320.2 1094.6,332.9 1079.8,332.9" fill="none" stroke="#0808a8" stroke-width="2.25" stroke-linejoin="miter"/>
<polygon points="1102.8,292.3 1110.2,304.5 1095.4,304.5" fill="none" stroke="#0808a8" stroke-width="2.25" stroke-linejoin="miter"/>
<polygon points="1118.8,269.7 1126.2,282.6 1111.4,282.6" fill="none" stroke="#0808a8" stroke-width="2.25" stroke-linejoin="miter"/>
<polygon points="1144.0,250.5 1151.4,263.3 1136.6,263.3" fill="none" stroke="#0808a8" stroke-width="2.25" stroke-linejoin="miter"/>
<polygon points="1185.4,240.9 1192.8,253.3 1178.0,253.3" fill="none" stroke="#0808a8" stroke-width="2.25" stroke-linejoin="miter"/>
<polygon points="1231.7,238.6 1239.1,251.1 1224.3,251.1" fill="none" stroke="#0808a8" stroke-width="2.25" stroke-linejoin="miter"/>
<polygon points="1278.4,238.0 1285.8,250.4 1271.0,250.4" fill="none" stroke="#0808a8" stroke-width="2.25" stroke-linejoin="miter"/>
<polygon points="1324.2,238.0 1331.6,250.4 1316.8,250.4" fill="none" stroke="#0808a8" stroke-width="2.25" stroke-linejoin="miter"/>
<path d="M1055.9,319.0 C1056.6,321.6 1059.4,330.8 1060.5,335.2 C1061.6,339.6 1061.7,343.7 1062.5,346.8 C1063.3,349.9 1064.5,352.3 1065.4,354.8 C1066.3,357.3 1067.2,360.9 1068.3,362.4 C1069.4,363.9 1070.8,363.9 1072.0,364.4 C1073.2,364.9 1074.5,365.8 1075.6,365.4 C1076.7,365.0 1077.7,363.0 1078.8,361.8 C1079.9,360.6 1080.6,360.0 1082.2,357.8 C1083.8,355.6 1086.7,352.6 1088.7,348.3 C1090.7,344.0 1092.7,336.4 1094.8,331.1 C1096.9,325.8 1099.8,319.7 1101.8,315.0 C1103.8,310.3 1105.5,305.7 1107.3,302.0 C1109.1,298.3 1110.9,295.4 1113.0,292.0 C1115.1,288.6 1117.6,284.2 1120.3,280.8 C1123.0,277.4 1126.8,273.8 1130.0,271.0 C1133.2,268.2 1135.6,265.5 1140.1,263.0 C1144.6,260.5 1151.9,257.5 1158.0,255.5 C1164.1,253.5 1168.0,251.9 1178.5,250.6 C1189.0,249.3 1209.0,248.1 1223.4,247.5 C1237.8,246.9 1254.0,246.9 1268.4,246.6 C1282.8,246.3 1298.8,245.9 1313.3,245.7 C1327.8,245.5 1344.3,245.3 1358.8,245.4 C1373.3,245.5 1396.5,246.0 1403.7,246.1" fill="none" stroke="#a80000" stroke-width="2.1" stroke-linejoin="round"/>
<rect x="1049.7" y="312.6" width="12.5" height="12.5" fill="none" stroke="#a80000" stroke-width="2.25"/>
<rect x="1056.2" y="340.6" width="12.5" height="12.5" fill="none" stroke="#a80000" stroke-width="2.25"/>
<rect x="1076.0" y="351.6" width="12.5" height="12.5" fill="none" stroke="#a80000" stroke-width="2.25"/>
<rect x="1088.5" y="324.6" width="12.5" height="12.5" fill="none" stroke="#a80000" stroke-width="2.25"/>
<rect x="1101.0" y="296.1" width="12.5" height="12.5" fill="none" stroke="#a80000" stroke-width="2.25"/>
<rect x="1114.0" y="274.6" width="12.5" height="12.5" fill="none" stroke="#a80000" stroke-width="2.25"/>
<rect x="1133.8" y="256.8" width="12.5" height="12.5" fill="none" stroke="#a80000" stroke-width="2.25"/>
<rect x="1172.2" y="244.3" width="12.5" height="12.5" fill="none" stroke="#a80000" stroke-width="2.25"/>
<rect x="1217.2" y="241.2" width="12.5" height="12.5" fill="none" stroke="#a80000" stroke-width="2.25"/>
<rect x="1262.2" y="240.3" width="12.5" height="12.5" fill="none" stroke="#a80000" stroke-width="2.25"/>
<rect x="1307.0" y="239.4" width="12.5" height="12.5" fill="none" stroke="#a80000" stroke-width="2.25"/>
<rect x="1352.5" y="239.2" width="12.5" height="12.5" fill="none" stroke="#a80000" stroke-width="2.25"/>
<rect x="1397.5" y="239.8" width="12.5" height="12.5" fill="none" stroke="#a80000" stroke-width="2.25"/>
</g>
<line x1="1046.10" y1="107.40" x2="1046.10" y2="384.90" stroke="#000" stroke-width="2.7" stroke-dasharray="2.6 4.9 13.3 4.9"/>
<line x1="943.40" y1="384.90" x2="1453.25" y2="384.90" stroke="#000" stroke-width="3" />
<line x1="956.00" y1="107.40" x2="956.00" y2="384.90" stroke="#000" stroke-width="3" />
<line x1="955.31" y1="384.90" x2="955.31" y2="393.40" stroke="#000" stroke-width="2" />
<line x1="973.04" y1="384.90" x2="973.04" y2="393.40" stroke="#000" stroke-width="2" />
<line x1="990.77" y1="384.90" x2="990.77" y2="393.40" stroke="#000" stroke-width="2" />
<line x1="1008.50" y1="384.90" x2="1008.50" y2="398.20" stroke="#000" stroke-width="3" />
<line x1="1026.23" y1="384.90" x2="1026.23" y2="393.40" stroke="#000" stroke-width="2" />
<line x1="1043.96" y1="384.90" x2="1043.96" y2="393.40" stroke="#000" stroke-width="2" />
<line x1="1061.69" y1="384.90" x2="1061.69" y2="393.40" stroke="#000" stroke-width="2" />
<line x1="1079.42" y1="384.90" x2="1079.42" y2="393.40" stroke="#000" stroke-width="2" />
<line x1="1097.15" y1="384.90" x2="1097.15" y2="398.20" stroke="#000" stroke-width="3" />
<line x1="1114.88" y1="384.90" x2="1114.88" y2="393.40" stroke="#000" stroke-width="2" />
<line x1="1132.61" y1="384.90" x2="1132.61" y2="393.40" stroke="#000" stroke-width="2" />
<line x1="1150.34" y1="384.90" x2="1150.34" y2="393.40" stroke="#000" stroke-width="2" />
<line x1="1168.07" y1="384.90" x2="1168.07" y2="393.40" stroke="#000" stroke-width="2" />
<line x1="1185.80" y1="384.90" x2="1185.80" y2="398.20" stroke="#000" stroke-width="3" />
<line x1="1203.53" y1="384.90" x2="1203.53" y2="393.40" stroke="#000" stroke-width="2" />
<line x1="1221.26" y1="384.90" x2="1221.26" y2="393.40" stroke="#000" stroke-width="2" />
<line x1="1238.99" y1="384.90" x2="1238.99" y2="393.40" stroke="#000" stroke-width="2" />
<line x1="1256.72" y1="384.90" x2="1256.72" y2="393.40" stroke="#000" stroke-width="2" />
<line x1="1274.45" y1="384.90" x2="1274.45" y2="398.20" stroke="#000" stroke-width="3" />
<line x1="1292.18" y1="384.90" x2="1292.18" y2="393.40" stroke="#000" stroke-width="2" />
<line x1="1309.91" y1="384.90" x2="1309.91" y2="393.40" stroke="#000" stroke-width="2" />
<line x1="1327.64" y1="384.90" x2="1327.64" y2="393.40" stroke="#000" stroke-width="2" />
<line x1="1345.37" y1="384.90" x2="1345.37" y2="393.40" stroke="#000" stroke-width="2" />
<line x1="1363.10" y1="384.90" x2="1363.10" y2="398.20" stroke="#000" stroke-width="3" />
<line x1="1380.83" y1="384.90" x2="1380.83" y2="393.40" stroke="#000" stroke-width="2" />
<line x1="1398.56" y1="384.90" x2="1398.56" y2="393.40" stroke="#000" stroke-width="2" />
<line x1="1416.29" y1="384.90" x2="1416.29" y2="393.40" stroke="#000" stroke-width="2" />
<line x1="1434.02" y1="384.90" x2="1434.02" y2="393.40" stroke="#000" stroke-width="2" />
<line x1="1451.75" y1="384.90" x2="1451.75" y2="398.20" stroke="#000" stroke-width="3" />
<text x="1008.50" y="434.00" font-size="34.5" letter-spacing="-0.7" text-anchor="middle" >0</text>
<text x="1097.15" y="434.00" font-size="34.5" letter-spacing="-0.7" text-anchor="middle" >0.5</text>
<text x="1185.80" y="434.00" font-size="34.5" letter-spacing="-0.7" text-anchor="middle" >1.0</text>
<text x="1274.45" y="434.00" font-size="34.5" letter-spacing="-0.7" text-anchor="middle" >1.5</text>
<text x="1363.10" y="434.00" font-size="34.5" letter-spacing="-0.7" text-anchor="middle" >2.0</text>
<text x="1451.75" y="434.00" font-size="34.5" letter-spacing="-0.7" text-anchor="middle" >2.5</text>
<line x1="943.40" y1="108.90" x2="956.00" y2="108.90" stroke="#000" stroke-width="3" />
<line x1="948.00" y1="122.70" x2="956.00" y2="122.70" stroke="#000" stroke-width="2" />
<line x1="948.00" y1="136.50" x2="956.00" y2="136.50" stroke="#000" stroke-width="2" />
<line x1="948.00" y1="150.30" x2="956.00" y2="150.30" stroke="#000" stroke-width="2" />
<line x1="948.00" y1="164.10" x2="956.00" y2="164.10" stroke="#000" stroke-width="2" />
<line x1="943.40" y1="177.90" x2="956.00" y2="177.90" stroke="#000" stroke-width="3" />
<line x1="948.00" y1="191.70" x2="956.00" y2="191.70" stroke="#000" stroke-width="2" />
<line x1="948.00" y1="205.50" x2="956.00" y2="205.50" stroke="#000" stroke-width="2" />
<line x1="948.00" y1="219.30" x2="956.00" y2="219.30" stroke="#000" stroke-width="2" />
<line x1="948.00" y1="233.10" x2="956.00" y2="233.10" stroke="#000" stroke-width="2" />
<line x1="943.40" y1="246.90" x2="956.00" y2="246.90" stroke="#000" stroke-width="3" />
<line x1="948.00" y1="260.70" x2="956.00" y2="260.70" stroke="#000" stroke-width="2" />
<line x1="948.00" y1="274.50" x2="956.00" y2="274.50" stroke="#000" stroke-width="2" />
<line x1="948.00" y1="288.30" x2="956.00" y2="288.30" stroke="#000" stroke-width="2" />
<line x1="948.00" y1="302.10" x2="956.00" y2="302.10" stroke="#000" stroke-width="2" />
<line x1="943.40" y1="315.90" x2="956.00" y2="315.90" stroke="#000" stroke-width="3" />
<line x1="948.00" y1="329.70" x2="956.00" y2="329.70" stroke="#000" stroke-width="2" />
<line x1="948.00" y1="343.50" x2="956.00" y2="343.50" stroke="#000" stroke-width="2" />
<line x1="948.00" y1="357.30" x2="956.00" y2="357.30" stroke="#000" stroke-width="2" />
<line x1="948.00" y1="371.10" x2="956.00" y2="371.10" stroke="#000" stroke-width="2" />
<text x="930.00" y="119.60" font-size="34.5" letter-spacing="-0.7" text-anchor="end" >0.50</text>
<text x="930.00" y="188.60" font-size="34.5" letter-spacing="-0.7" text-anchor="end" >0.25</text>
<text x="930.00" y="257.60" font-size="34.5" letter-spacing="-0.7" text-anchor="end" >0</text>
<text x="930.00" y="326.60" font-size="34.5" letter-spacing="-0.7" text-anchor="end" ><tspan font-size="39" dy="1">–</tspan><tspan dy="-1">0.25</tspan></text>
<text x="930.00" y="395.60" font-size="34.5" letter-spacing="-0.7" text-anchor="end" ><tspan font-size="39" dy="1">–</tspan><tspan dy="-1">0.50</tspan></text>
<line x1="1452.30" y1="127.60" x2="1452.30" y2="240.40" stroke="#000" stroke-width="2.9" />
<polygon points="1452.3,115.4 1460.4,128.6 1444.2,128.6" fill="#000"/>
<line x1="1452.30" y1="252.20" x2="1452.30" y2="366.20" stroke="#000" stroke-width="2.9" />
<polygon points="1452.3,378.4 1460.4,365.2 1444.2,365.2" fill="#000"/>
<text transform="translate(1494.8,183.4) rotate(-90)" font-size="34.5" text-anchor="middle">Gain</text>
<text transform="translate(1493.9,315.8) rotate(-90)" font-size="34.5" text-anchor="middle">Loss</text>
<text y="483.6" font-size="40"><tspan x="1136.9">(</tspan><tspan x="1150.6" font-style="italic">z</tspan><tspan x="1175.9">–</tspan><tspan x="1206.5" font-style="italic">d</tspan><tspan x="1229.4">)</tspan><tspan x="1243">/</tspan><tspan x="1253.5" font-style="italic">s</tspan></text>
<text x="788" y="76.4" font-size="40">(<tspan font-style="italic">b</tspan>)</text>
<g transform="translate(822.2,359.1) rotate(-90)" font-size="40">
<text y="0"><tspan x="-0.7">(</tspan><tspan x="12.6" font-style="italic">I</tspan><tspan x="24.2" dy="13.5" font-size="31" font-style="italic">6</tspan><tspan x="40.5" font-size="31" font-style="italic">v</tspan><tspan x="66.4" dy="-12.5" font-size="44">+</tspan><tspan x="101.6" dy="-1" font-style="italic">I</tspan><tspan x="113" dy="13.5" font-size="31" font-style="italic">6</tspan><tspan x="128.5" font-size="31" font-style="italic">w</tspan><tspan x="149" dy="-13.5">)</tspan><tspan x="162.0" font-style="italic">s</tspan><tspan x="177.3">/</tspan><tspan x="189.5" font-style="italic">u</tspan><tspan x="207.5" dy="-12.75" font-size="31">3</tspan><tspan x="209.5" dy="33.35" font-size="31">*</tspan></text>
</g>
</svg>
</body>
</html>
